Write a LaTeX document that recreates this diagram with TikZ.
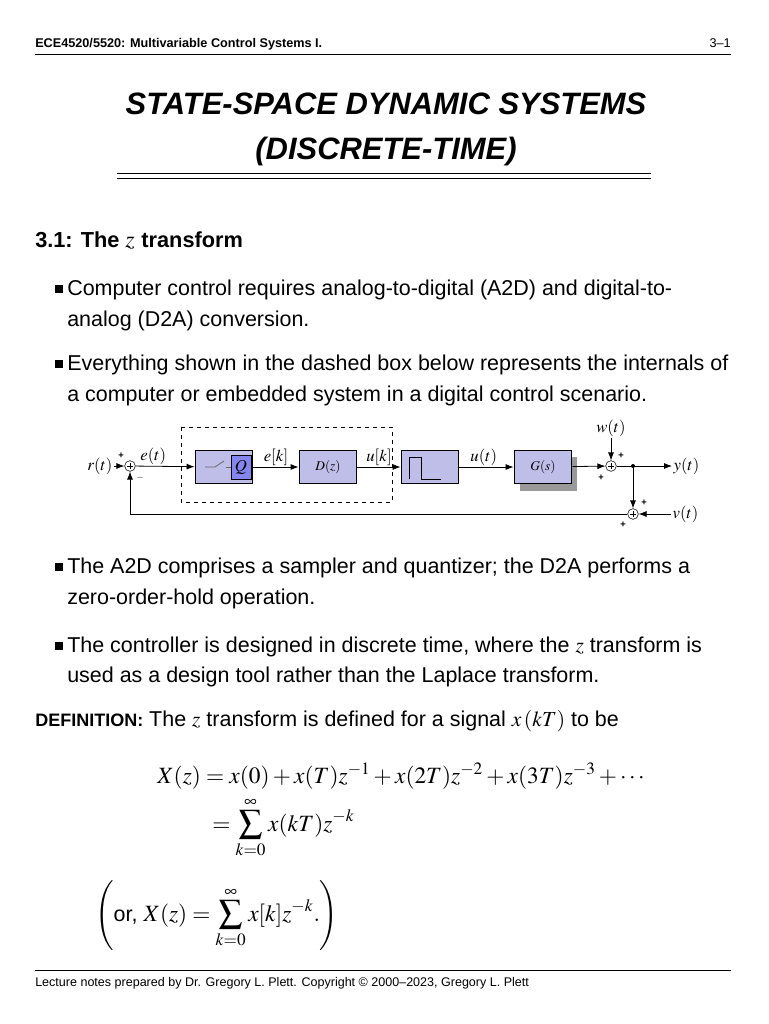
\documentclass[tikz,border=0pt]{standalone}
\usepackage{mathptmx}
\usepackage{amsmath}
\usepackage{fontspec}
\setmainfont{Liberation Sans}
\usetikzlibrary{arrows.meta,calc}
\definecolor{blk}{RGB}{190,190,232}
\begin{document}
\begin{tikzpicture}[x=0.75pt,y=-0.75pt,
 txt/.style={anchor=base west,inner sep=0,font=\fontsize{16.1}{19}\selectfont},
 eq/.style={anchor=base west,inner sep=0,font=\fontsize{17.5}{21}\selectfont},
 bul/.style={fill=black,minimum size=5.5pt,inner sep=0},
 blkbox/.style={draw,line width=1.1pt,fill=blk,minimum width=43pt,minimum height=25pt,inner sep=0},
 dlab/.style={inner sep=1pt,font=\fontsize{12.5}{14}\selectfont},
 sm/.style={circle,draw,minimum size=8pt,inner sep=0},
 pl/.style={inner sep=0,font=\fontsize{7}{8}\selectfont\bfseries},
 arr/.style={-{Latex[length=6pt,width=4.5pt]},line width=0.6pt},
 ln/.style={line width=0.6pt}]
\useasboundingbox (0,0) rectangle (768,1024);
% header
\node[anchor=base west,inner sep=0,font=\fontsize{9.5}{11}\selectfont\bfseries] (hd) at (35,48) {ECE4520/5520: Multivariable Control Systems I.};
\node[anchor=base east,inner sep=0,font=\fontsize{9.5}{11}\selectfont] (pg) at (731,48) {3--1};
\draw[line width=0.5pt] (35,54) -- (731,54);
% title
\node[inner sep=0,font=\fontsize{23.2}{27}\selectfont\bfseries\itshape,anchor=base] (t1) at (386,114) {STATE-SPACE DYNAMIC SYSTEMS};
\node[inner sep=0,font=\fontsize{23.2}{27}\selectfont\bfseries\itshape,anchor=base] (t2) at (386,159) {(DISCRETE-TIME)};
\draw[line width=1.2pt] (117,173.5) -- (651,173.5);
\draw[line width=0.5pt] (117,178) -- (651,178);
% section
\node[txt,font=\fontsize{16.3}{19}\selectfont\bfseries] (sec) at (35,247) {3.1: The \fontsize{18}{19}\selectfont$z$ \fontsize{16.3}{19}\selectfont transform};
% bullets
\node[bul] (b1) at (59,289) {};
\node[txt] (l1) at (67,295) {Computer control requires analog-to-digital (A2D) and digital-to-};
\node[txt] (l1b) at (67,326) {analog (D2A) conversion.};
\node[bul] (b2) at (59,364) {};
\node[txt] (l2) at (67,370) {Everything shown in the dashed box below represents the internals of};
\node[txt] (l2b) at (67,401) {a computer or embedded system in a digital control scenario.};
\node[bul] (b3) at (59,567) {};
\node[txt] (l3) at (67,573) {The A2D comprises a sampler and quantizer; the D2A performs a};
\node[txt] (l3b) at (67,604) {zero-order-hold operation.};
\node[bul] (b4) at (59,646) {};
\node[txt] (l4) at (67,652) {The controller is designed in discrete time, where the $z$ transform is};
\node[txt] (l4b) at (67,682) {used as a design tool rather than the Laplace transform.};
\node[txt] (def) at (35,726) {{\fontsize{13.5}{14}\selectfont\bfseries DEFINITION:} The $z$ transform is defined for a signal $x\,(kT)$ to be};
% equations
\node[eq] (e1) at (157,783) {$X(z) = x(0) + x(T)z^{-1} + x(2T)z^{-2} + x(3T)z^{-3} + \cdots$};
\node[eq] (e2) at (212,831) {$\displaystyle = \sum_{k=0}^{\infty} x(kT)z^{-k}$};
\node[eq] (e3) at (95,921) {$\displaystyle \left(\text{\fontsize{16.1}{19}\selectfont or, } X(z) = \sum_{k=0}^{\infty} x[k]z^{-k}.\right)$};
% footer
\draw[line width=0.5pt] (35,970) -- (731,970);
\node[anchor=base west,inner sep=0,font=\fontsize{9.4}{11}\selectfont] (ft) at (35,986) {Lecture notes prepared by Dr. Gregory L. Plett. Copyright \textcopyright{} 2000--2023, Gregory L. Plett};
% diagram
\draw[dashed,line width=0.6pt] (181,427) rectangle (392,502);
\node[dlab,anchor=east] (r) at (114,466) {$r(t)$};
\node[sm] (s1) at (130,466) {};
\draw[ln] ($(s1)+(-3,0)$)--($(s1)+(3,0)$) ($(s1)+(0,-3)$)--($(s1)+(0,3)$);
\node[blkbox] (q) at (224,467) {};
\node[blkbox] (d) at (328,467) {$D(z)$};
\node[blkbox] (h) at (430,467) {};
\fill[black!40] (520,457) rectangle (577,491);
\node[blkbox] (g) at (543,467) {$G(s)$};
\node[sm] (s2) at (611,466) {};
\draw[ln] ($(s2)+(-3,0)$)--($(s2)+(3,0)$) ($(s2)+(0,-3)$)--($(s2)+(0,3)$);
\coordinate (br) at (633,466);
\fill (br) circle (1.5pt);
\node[dlab,anchor=west] (y) at (672,466) {$y(t)$};
\node[sm] (s3) at (633,514) {};
\draw[ln] ($(s3)+(-3,0)$)--($(s3)+(3,0)$) ($(s3)+(0,-3)$)--($(s3)+(0,3)$);
\node[dlab,anchor=west] (v) at (671,514) {$v(t)$};
\node[dlab,anchor=south] (w) at (611,438) {$w(t)$};
% Q block internals
\draw[black!60,line width=0.6pt] (205,467)--(215,467)--(224,461);
\draw[black!60,line width=0.6pt] (226,467)--(232,467);
\node[draw,fill=blk!70!blue,minimum width=15pt,minimum height=18pt,inner sep=0,font=\fontsize{12.5}{14}\selectfont] (qq) at (241,467) {$Q$};
% ZOH internals
\draw[line width=0.6pt] (409,479)--(409,457)--(421,457)--(421,479)--(441,479);
% connectors
\draw[arr] (r) -- (s1);
\draw[arr] (s1) -- (q) node[dlab,pos=0.3,above] {$e(t)$};
\draw[arr] (q) -- (d) node[dlab,midway,above] {$e[k]$};
\draw[arr] (d) -- (h) node[dlab,midway,above] {$u[k]$};
\draw[arr] (h) -- (g) node[dlab,pos=0.45,above] {$u(t)$};
\draw[arr] (g) -- (s2);
\draw[arr] (s2) -- (y);
\draw[arr] (br) -- (s3);
\draw[arr] (v) -- (s3);
\draw[arr] (w) -- (s2);
\draw[arr] (s3) -- (130,514) -- (s1);
% signs
\node[pl] at (121,456) {+};
\node[pl] at (140,478) {$-$};
\node[pl] at (621,456) {+};
\node[pl] at (601,478) {+};
\node[pl] at (644,503) {+};
\node[pl] at (623,525) {+};
\end{tikzpicture}
\end{document}
